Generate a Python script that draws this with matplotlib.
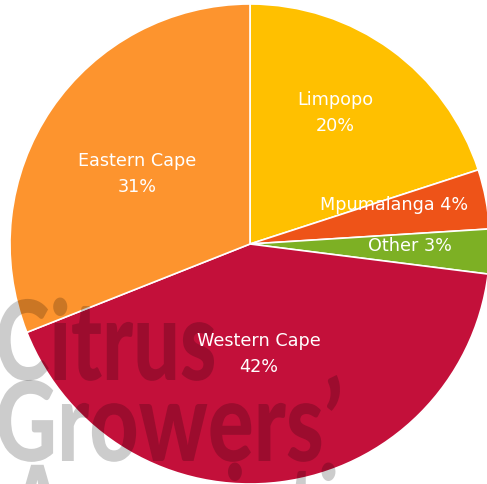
import matplotlib
matplotlib.use("Agg")
import matplotlib.pyplot as plt
from matplotlib.textpath import TextPath
from matplotlib.patches import PathPatch
from matplotlib.font_manager import FontProperties
from matplotlib.transforms import Affine2D

# data
regions = ["Limpopo", "Mpumalanga", "Other", "Western Cape", "Eastern Cape"]
shares = [20, 4, 3, 42, 31]
colors = ["#FFC000", "#EE5318", "#7DB024", "#C3103A", "#FD942E"]

# label placement (pixel coords), two-line or one-line
label_pos = {"Limpopo": (335, 113, True),
             "Mpumalanga": (394, 205, False),
             "Other": (410, 246, False),
             "Western Cape": (259, 354, True),
             "Eastern Cape": (137, 174, True)}

watermark = ["Citrus", "Growers\u2019", "Association"]

W, H = 487, 484
fig = plt.figure(figsize=(W / 100, H / 100), dpi=100)
ax = fig.add_axes([0, 0, 1, 1])

# y axis inverted -> counterclock in data = clockwise on screen
ax.pie(shares, colors=colors, center=(250, 244), radius=240,
       startangle=-90, counterclock=True,
       wedgeprops=dict(edgecolor="white", linewidth=1.2), frame=True)
ax.set_xlim(0, W)
ax.set_ylim(H, 0)
ax.set_aspect("equal")
ax.axis("off")

# watermark: condensed heavy text, darkening overlay
fp = FontProperties(family="Lato", weight="black")
xref = TextPath((0, 0), "x", size=100, prop=fp).get_extents().y1
lines = [(watermark[0], -2, 380, 216, 57),
         (watermark[1], -2, 461, 342, 57),
         (watermark[2], 8, 545, 420, 57)]
for txt, x0, base, width, xh in lines:
    tp = TextPath((0, 0), txt, size=100, prop=fp)
    ext = tp.get_extents()
    sx = width / (ext.x1 - ext.x0)
    sy = xh / xref
    tr = Affine2D().translate(-ext.x0, 0).scale(sx, -sy).translate(x0, base)
    ax.add_patch(PathPatch(tr.transform_path(tp), facecolor="black",
                           edgecolor="none", alpha=0.2, zorder=5))

for name, share in zip(regions, shares):
    x, y, two = label_pos[name]
    if two:
        s = f"{name}\n{share}%"
    else:
        s = f"{name} {share}%"
    ax.text(x, y, s, ha="center", va="center", color="white",
            fontsize=12.7, linespacing=1.55, zorder=6)

fig.savefig("out.png", dpi=100)
